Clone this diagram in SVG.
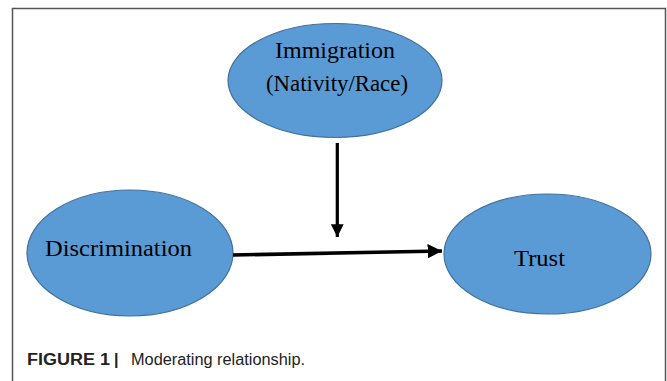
<svg xmlns="http://www.w3.org/2000/svg" width="667" height="381" viewBox="0 0 667 381">
<style>
.node{fill:#5B9BD5;stroke:#41719C;stroke-width:1.2}
.lbl{font-family:"Liberation Serif","Times New Roman",serif;font-size:24px;fill:#000}
.cap{font-family:"Liberation Sans",Arial,sans-serif;font-size:16px;fill:#222}
.frame{fill:none;stroke:#555;stroke-width:1.5}
</style>
<defs>
<marker id="ah" markerWidth="4" markerHeight="4" refX="4" refY="2" orient="auto" markerUnits="strokeWidth">
<path d="M0,0 L4,2 L0,4 Z" fill="#000"/>
</marker>
</defs>
<rect width="667" height="381" fill="#fff"/>
<path class="frame" d="M12.5,382 V8.5 H665.5 V382"/>
<g id="immigration">
<ellipse class="node" cx="335" cy="80.5" rx="107" ry="57"/>
<text class="lbl" x="335" y="58" text-anchor="middle">Immigration</text>
<text class="lbl" x="337" y="91" text-anchor="middle" textLength="142" lengthAdjust="spacingAndGlyphs">(Nativity/Race)</text>
</g>
<g id="discrimination">
<ellipse class="node" cx="130" cy="253" rx="103" ry="63"/>
<text class="lbl" x="45" y="256" textLength="147" lengthAdjust="spacingAndGlyphs">Discrimination</text>
</g>
<g id="trust">
<ellipse class="node" cx="547.5" cy="254" rx="103.5" ry="60"/>
<text class="lbl" x="514" y="266" textLength="51" lengthAdjust="spacingAndGlyphs">Trust</text>
</g>
<g id="connectors" stroke="#000" fill="none">
<line x1="337.3" y1="143" x2="337.3" y2="237" stroke-width="3.2" marker-end="url(#ah)"/>
<line x1="233" y1="255" x2="442" y2="251" stroke-width="3.6" marker-end="url(#ah)"/>
</g>
<text class="cap" y="365"><tspan x="27" font-weight="bold" textLength="83" lengthAdjust="spacingAndGlyphs">FIGURE 1</tspan><tspan x="114" font-weight="bold">|</tspan><tspan x="131" textLength="174" lengthAdjust="spacingAndGlyphs">Moderating relationship.</tspan></text>
</svg>
